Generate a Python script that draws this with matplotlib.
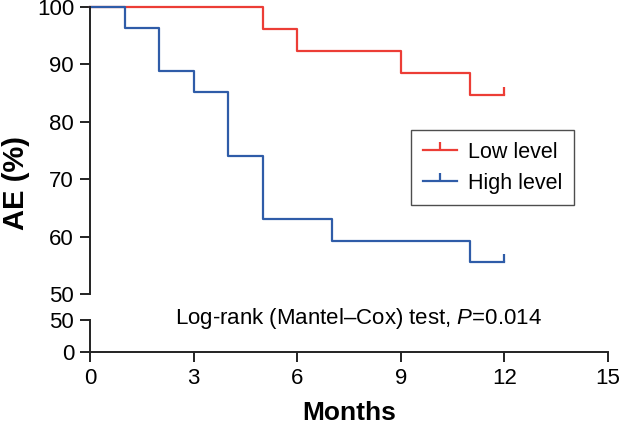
import matplotlib
matplotlib.use("Agg")
import matplotlib.pyplot as plt
from matplotlib.lines import Line2D

plt.rcParams['font.family'] = ['Liberation Sans', 'DejaVu Sans']
plt.rcParams['mathtext.fontset'] = 'custom'
plt.rcParams['mathtext.it'] = 'Liberation Sans:italic'
plt.rcParams['mathtext.rm'] = 'Liberation Sans'

# Data (Kaplan-Meier steps)
low_t = [0, 5, 6, 9, 11, 12]
low_s = [100, 96.2, 92.3, 88.5, 84.6, 84.6]
high_t = [0, 1, 2, 3, 4, 5, 7, 11, 12]
high_s = [100, 96.3, 88.9, 85.2, 74.1, 63.0, 59.3, 55.6, 55.6]
censor_t = 12
low_censor = 84.6
high_censor = 55.6
x_ticks = [0, 3, 6, 9, 12, 15]
upper_ticks = [50, 60, 70, 80, 90, 100]
lower_ticks = [0, 50]
labels = ["Low level", "High level"]

red = '#EC3D36'
blue = '#2F5CA8'
axc = '#222222'

W, H = 619, 424
fig = plt.figure(figsize=(W / 100, H / 100), dpi=100)

def fx(px):
    return px / W

def fy(py):
    return 1 - py / H

x0, x1 = 90, 608
ax_up = fig.add_axes([fx(x0), fy(294), fx(x1) - fx(x0), fy(7) - fy(294)])
ax_lo = fig.add_axes([fx(x0), fy(352), fx(x1) - fx(x0), fy(320) - fy(352)])

tick_marker = [(0, 0), (0, 1)]

for ax in (ax_up, ax_lo):
    ax.set_xlim(0, 15)
    for s in ('top', 'right'):
        ax.spines[s].set_visible(False)
    ax.spines['left'].set_color(axc)
    ax.spines['left'].set_linewidth(1.4)
    ax.spines['bottom'].set_color(axc)
    ax.spines['bottom'].set_linewidth(1.4)
    ax.tick_params(axis='both', which='major', direction='out', length=7.5, width=1.4,
                   color=axc, labelsize=16, pad=4)
    ax.patch.set_alpha(0)

# upper
ax_up.step(low_t, low_s, where='post', color=red, lw=1.6, clip_on=False)
ax_up.step(high_t, high_s, where='post', color=blue, lw=1.6, clip_on=False)
ax_up.plot([censor_t], [low_censor], linestyle='none', marker=tick_marker, ms=12,
           mec=red, mfc='none', mew=1.6, clip_on=False)
ax_up.plot([censor_t], [high_censor], linestyle='none', marker=tick_marker, ms=12,
           mec=blue, mfc='none', mew=1.6, clip_on=False)
ax_up.set_ylim(50, 100)
ax_up.set_yticks(upper_ticks)
ax_up.set_yticks([50], minor=True)
ax_up.tick_params(axis='y', which='minor', direction='in', length=5, width=1.4, color=axc)
ax_up.spines['bottom'].set_visible(False)
ax_up.set_xticks([])

# lower
ax_lo.set_ylim(0, 50)
ax_lo.set_yticks(lower_ticks)
ax_lo.set_yticks([50], minor=True)
ax_lo.tick_params(axis='y', which='minor', direction='in', length=5, width=1.4, color=axc)
ax_lo.set_xticks(x_ticks)
ax_lo.text(7.76, 53, 'Log-rank (Mantel\u2013Cox) test, $\\mathit{P}$=0.014', ha='center',
           va='center', fontsize=16)

fig.text(fx(16), fy(183), 'AE (%)', rotation=90, ha='center', va='center',
         fontsize=21, fontweight='bold')
fig.text(fx(349), fy(420), 'Months', ha='center', va='baseline',
         fontsize=19, fontweight='bold')

handles = [
    Line2D([], [], color=red, lw=1.6, marker=tick_marker, ms=11, mec=red, mfc='none', mew=1.6),
    Line2D([], [], color=blue, lw=1.6, marker=tick_marker, ms=11, mec=blue, mfc='none', mew=1.6),
]
leg = ax_up.legend(handles, labels, loc='upper left',
                   bbox_to_anchor=(fx(411), fy(130)), bbox_transform=fig.transFigure,
                   fontsize=15.5, frameon=True, fancybox=False, handlelength=1.6,
                   handletextpad=0.5, borderpad=0.55, labelspacing=0.45, numpoints=1,
                   borderaxespad=0)
leg.get_frame().set_edgecolor(axc)
leg.get_frame().set_linewidth(1.0)

fig.savefig('out.png', dpi=100)
